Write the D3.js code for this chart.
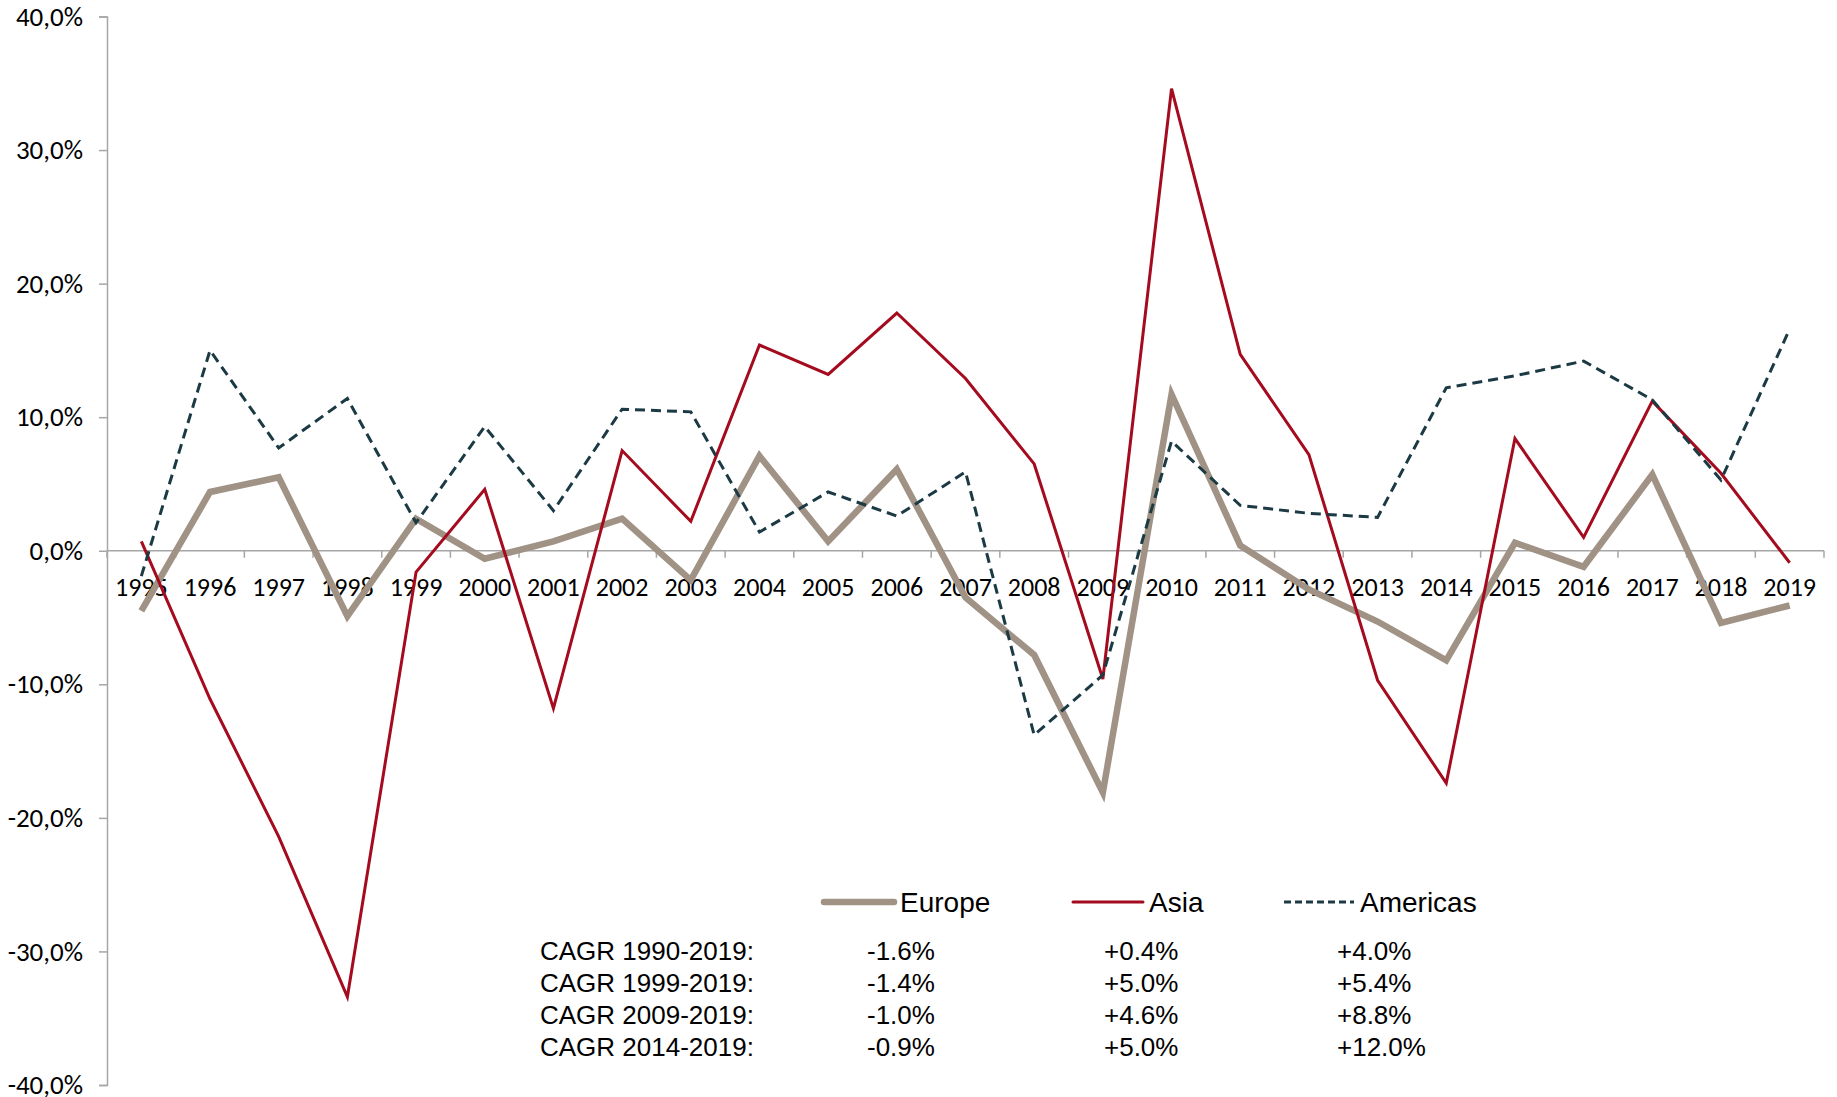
<!DOCTYPE html>
<html>
<head>
<meta charset="utf-8">
<script src="https://cdn.jsdelivr.net/npm/d3@7/dist/d3.min.js"></script>
</head>
<body style="margin: 0; background: #ffffff;">
<div id="chart"></div>
<script>

    'use strict';

    var years = ["1995","1996","1997","1998","1999","2000","2001","2002","2003","2004","2005","2006","2007",
                 "2008","2009","2010","2011","2012","2013","2014","2015","2016","2017","2018","2019"];

    var europe = [-4.5, 4.4, 5.5, -4.9, 2.4, -0.6, 0.7, 2.4, -2.2, 7.1, 0.7, 6.1, -3.5,
                  -7.8, -18.1, 11.7, 0.4, -2.9, -5.3, -8.2, 0.6, -1.2, 5.7, -5.4, -4.1];
    var asia = [0.7, -11.1, -21.4, -33.4, -1.6, 4.6, -11.8, 7.5, 2.2, 15.4, 13.2, 17.8, 12.9,
                6.5, -9.6, 34.6, 14.7, 7.2, -9.7, -17.4, 8.4, 1.0, 11.2, 5.8, -0.9];
    var americas = [-1.9, 15.0, 7.7, 11.4, 2.1, 9.3, 3.0, 10.6, 10.4, 1.4, 4.4, 2.6, 5.9,
                    -13.8, -9.3, 8.2, 3.4, 2.8, 2.5, 12.2, 13.1, 14.2, 11.3, 5.3, 16.6];

    var yTicks = [-40, -30, -20, -10, 0, 10, 20, 30, 40];

    var cagrLabels = ["CAGR 1990-2019:", "CAGR 1999-2019:", "CAGR 2009-2019:", "CAGR 2014-2019:"];
    var cagrEurope = ["-1.6%", "-1.4%", "-1.0%", "-0.9%"];
    var cagrAsia = ["+0.4%", "+5.0%", "+4.6%", "+5.0%"];
    var cagrAmericas = ["+4.0%", "+5.4%", "+8.8%", "+12.0%"];

    var width = 1837, height = 1097;
    var axisColor = "#a6a6a6";
    var labelFont = "Carlito, Lato, sans-serif";
    var legendFont = "'Liberation Sans', Arial, sans-serif";

    var svg = d3.select("#chart").append("svg")
        .attr("width", width)
        .attr("height", height)
        .style("display", "block");

    var x = d3.scaleBand().domain(years).range([107, 1824]);
    var y = d3.scaleLinear().domain([-40, 40]).range([1085, 16.5]);
    var xc = function(d, i) { return x(years[i]) + x.bandwidth() / 2; };

    // y axis
    var yAxis = svg.append("g")
        .attr("transform", "translate(107,0)")
        .call(d3.axisLeft(y).tickValues(yTicks).tickSize(8).tickPadding(16)
            .tickFormat(function(d) { return d3.format(".1f")(d).replace(".", ",").replace("\u2212", "-") + "%"; }));
    yAxis.select(".domain").attr("stroke", axisColor).attr("stroke-width", 1.5);
    yAxis.selectAll(".tick line").attr("stroke", axisColor).attr("stroke-width", 1.5);
    yAxis.selectAll("text").attr("fill", "#000").style("font-family", labelFont).style("font-size", "27px");

    // x axis along zero, ticks between categories
    var xg = svg.append("g").attr("transform", "translate(0," + y(0) + ")");
    xg.append("line")
        .attr("x1", 107).attr("x2", 1824)
        .attr("stroke", axisColor).attr("stroke-width", 1.5);
    var bounds = years.map(function(d) { return x(d); }).concat([x.range()[1]]);
    xg.selectAll("line.tk").data(bounds).enter().append("line")
        .attr("class", "tk")
        .attr("x1", function(d) { return d; }).attr("x2", function(d) { return d; })
        .attr("y1", 0).attr("y2", 7)
        .attr("stroke", axisColor).attr("stroke-width", 1.5);
    xg.selectAll("text").data(years).enter().append("text")
        .attr("x", function(d) { return x(d) + x.bandwidth() / 2; })
        .attr("y", 45)
        .attr("text-anchor", "middle")
        .style("font-family", labelFont)
        .style("font-size", "26px")
        .text(function(d) { return d; });

    var line = d3.line()
        .x(function(d, i) { return xc(d, i); })
        .y(function(d) { return y(d); });

    var series = [
        { name: "Europe", values: europe, color: "#a09386", w: 6.5, dash: null },
        { name: "Asia", values: asia, color: "#a50b1e", w: 3, dash: null },
        { name: "Americas", values: americas, color: "#1b3a44", w: 3, dash: "10,6" }
    ];

    series.forEach(function(s) {
        svg.append("path")
            .datum(s.values)
            .attr("fill", "none")
            .attr("stroke", s.color)
            .attr("stroke-width", s.w)
            .attr("stroke-linejoin", "miter")
            .attr("stroke-dasharray", s.dash)
            .attr("d", line);
    });

    // legend
    var legendX = [824, 1073, 1284];
    var legend = svg.append("g");
    series.forEach(function(s, i) {
        legend.append("line")
            .attr("x1", legendX[i]).attr("x2", legendX[i] + 70)
            .attr("y1", 902).attr("y2", 902)
            .attr("stroke", s.color)
            .attr("stroke-width", s.w)
            .attr("stroke-linecap", s.dash ? "butt" : "round")
            .attr("stroke-dasharray", s.dash ? "7,4" : null);
        legend.append("text")
            .attr("x", legendX[i] + 76)
            .attr("y", 912)
            .style("font-family", legendFont)
            .style("font-size", "28px")
            .text(s.name);
    });

    // CAGR table
    var cols = [
        { x: 540, vals: cagrLabels },
        { x: 867, vals: cagrEurope },
        { x: 1104, vals: cagrAsia },
        { x: 1337, vals: cagrAmericas }
    ];
    var rowY = [951, 983, 1015, 1047];
    cols.forEach(function(c) {
        svg.append("g").selectAll("text").data(c.vals).enter().append("text")
            .attr("x", c.x)
            .attr("y", function(d, i) { return rowY[i]; })
            .attr("dy", "0.35em")
            .style("font-family", legendFont)
            .style("font-size", "26px")
            .text(function(d) { return d; });
    });

</script>
</body>
</html>
